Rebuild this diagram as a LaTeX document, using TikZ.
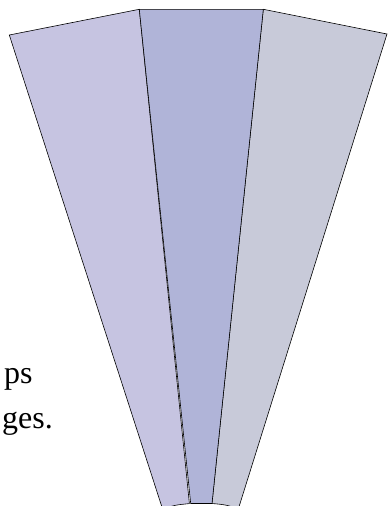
\documentclass[tikz,border=0pt]{standalone}
\usepackage{fontspec}
\setmainfont{Liberation Serif}
\definecolor{leftfill}{RGB}{198,196,225}
\definecolor{midfill}{RGB}{176,180,216}
\definecolor{rightfill}{RGB}{200,202,217}

\begin{document}
\begin{tikzpicture}[x=1pt, y=-1pt,
  panel/.style={draw=black, line width=0.6pt, line join=miter},
  txt/.style={anchor=base west, inner sep=0pt, font=\fontsize{32}{38}\selectfont}]
  \useasboundingbox (0,0) rectangle (389,506);
  % corners of the fan
  \coordinate (lt) at (9.3,35);
  \coordinate (mtl) at (139.3,9.3);
  \coordinate (mtr) at (263.3,9.3);
  \coordinate (rt) at (387,34);
  \coordinate (lbl) at (162.6,509.1);
  \coordinate (lbr) at (189.4,503.6);
  \coordinate (mbl) at (190.7,503.5);
  \coordinate (mbr) at (212,503.5);
  \coordinate (rbr) at (238.4,508.7);
  % the three panels
  \fill[leftfill] (lt) -- (mtl) -- (lbr) .. controls (175.1,505) .. (lbl) -- cycle;
  \draw[panel] (lt) -- (mtl) -- (lbr) .. controls (175.1,505) .. (lbl) -- cycle;
  \fill[rightfill] (mtr) -- (rt) -- (rbr) .. controls (225.4,504.7) .. (mbr) -- cycle;
  \draw[panel] (mtr) -- (rt) -- (rbr) .. controls (225.4,504.7) .. (mbr) -- cycle;
  \fill[midfill] (mtl) -- (mtr) -- (mbr) .. controls (201,502.6) .. (mbl) -- cycle;
  \draw[panel] (mtl) -- (mtr) -- (mbr) .. controls (201,502.6) .. (mbl) -- cycle;
  % text at the left border
  \node[txt] (ps) at (4,383) {ps};
  \node[txt] (ges) at (2,428) {ges.};
\end{tikzpicture}
\end{document}
